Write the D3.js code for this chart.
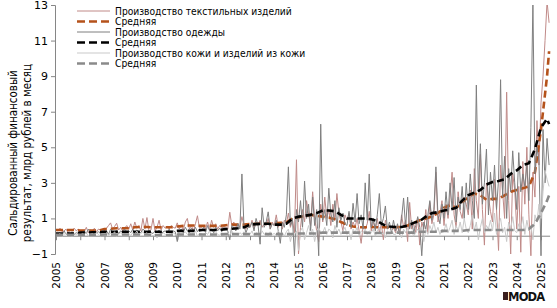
<!DOCTYPE html>
<html><head><meta charset="utf-8">
<script src="https://cdn.jsdelivr.net/npm/d3@7"></script>
<style>
body{margin:0;background:#fff}
svg{display:block}
text{font-family:"DejaVu Sans",Verdana,sans-serif}
</style>
</head><body>
<svg id="c" width="557" height="308"></svg>
<script>
// ---------- DATA ----------
const startYear = 2005;
const yearLabels = ["2005","2006","2007","2008","2009","2010","2011","2012","2013","2014","2015","2016","2017","2018","2019","2020","2021","2022","2023","2024","2025"];
const yTickValues = [-1, 1, 3, 5, 7, 9, 11, 13];
const seriesNames = ["Производство текстильных изделий","Средняя","Производство одежды","Средняя","Производство кожи и изделий из кожи","Средняя"];
const yTitle = ["Сальдированный финансовый","результат, млрд рублей в месяц"];

// monthly values, Jan 2005 .. May 2025 (bn RUB)
const textile = [
 .35,.3,.45,.25,.3,.4,.2,.35,.3,.45,.3,.4,
 .2,.3,.25,.5,.2,.35,.3,.45,.25,.4,.35,.3,
 .3,.45,.6,.75,.4,.55,.73,.35,.5,.3,.45,.6,
 .4,.7,.35,.8,.45,.6,.3,1.0,.4,1.05,.3,.35,
 1.0,.3,.5,.9,.35,.6,.45,.55,.4,.6,.5,.45,
 .75,.4,.6,.35,.8,1.0,.4,.6,.3,.7,1.15,.45,
 .5,.6,.4,.8,.35,.9,.5,.7,.4,.6,.45,.55,
 .5,.4,1.35,.6,.8,.4,.7,.5,1.1,.6,.4,.7,
 .5,.9,.4,.8,.6,.9,.5,.7,.6,1.0,.4,.8,
 .6,1.2,.5,.8,.4,.9,.7,1.3,.5,.9,.2,4.3,
 -1.0,.5,1.5,.8,2.0,1.2,.6,2.5,1.0,.3,-.3,1.8,
 .8,2.2,1.0,1.5,.6,1.8,.9,2.4,1.3,.8,.3,1.2,
 .9,1.3,.4,.8,.5,1.0,.3,-.4,.6,.4,.7,1.4,
 .3,.8,.5,1.0,.2,.7,-.2,.9,.4,.6,.3,.5,
 .2,.6,.1,1.2,.5,.9,-.3,1.9,.4,.7,.2,1.0,
 -.5,.8,.4,1.5,.2,1.9,.7,1.2,3.6,.8,1.3,2.0,
 .6,1.8,1.0,2.2,3.6,1.2,.5,2.5,1.4,1.0,2.2,1.8,
 1.2,2.6,.4,3.8,2.0,1.0,4.6,1.5,-.5,3.0,2.2,1.4,
 .8,3.2,1.5,-.8,4.0,2.5,1.0,8.1,2.0,-1.0,3.5,2.6,
 .4,2.8,-.9,4.2,1.8,5.0,1.2,-1.1,3.6,2.2,6.5,4.0,
 7.5,9.0,11.0,13.2,12.0
];
const clothing = [
 .15,.1,.2,.05,.3,.1,.2,.15,.25,.1,.2,.15,
 .1,.2,.3,.15,.4,.2,.1,.3,.2,.25,.15,.35,
 .2,.3,.1,.4,.25,.2,.35,.15,.3,.2,.4,.25,
 .3,.2,.4,.1,.35,.25,.2,.4,.3,.15,.35,.2,
 .15,.3,.2,.35,.1,.25,.3,.2,.4,.15,.3,.25,
 -.3,.3,.4,.2,.5,.3,.2,.45,.3,.5,.25,.4,
 .3,.5,.2,.6,.3,.4,.2,.5,.3,.45,.25,.5,
 .4,.3,-.2,.6,.5,.3,.7,.4,3.5,.6,.2,.5,
 .5,.8,.3,1.0,.6,-.45,1.6,.5,.8,1.37,.4,.7,
 .6,.9,.3,-.4,.8,.5,1.2,3.9,.6,1.0,-1.1,1.5,
 .8,2.0,.5,3.1,1.0,1.8,.3,2.2,.6,1.5,-1.1,6.3,
 .9,1.5,.6,2.7,1.2,.8,2.0,.5,1.6,.9,1.3,.7,
 .6,1.4,.5,1.85,.8,2.4,.7,1.2,.4,3.0,.9,3.5,
 .5,1.0,.3,1.2,2.4,.6,1.0,1.7,.4,.8,.2,.9,
 .3,.7,.1,1.0,2.15,.5,2.2,.4,.9,.2,.6,1.1,
 .5,-1.1,.8,.4,1.2,2.0,.9,1.5,3.9,1.2,.7,1.8,
 1.0,2.5,1.2,3.0,1.5,3.3,.8,2.2,1.5,2.8,1.0,3.0,
 1.5,3.5,2.0,1.0,8.5,2.5,5.2,1.8,3.0,4.9,1.2,3.6,
 2.0,4.0,1.5,3.2,8.8,2.2,4.5,1.0,3.8,2.5,4.8,3.0,
 1.5,4.7,2.5,3.5,2.8,4.0,2.0,6.1,13.2,3.5,5.0,4.2,
 -1.1,6.0,3.0,5.5,4.0
];
const leather = [
 .1,.05,.15,0,.1,.2,.05,.1,0,.15,.1,.05,
 .05,.15,.1,.2,0,.1,.15,.05,.2,.1,0,.15,
 .1,.2,.05,.15,.1,.25,0,.1,.2,.05,.15,.1,
 .15,.05,.2,.1,.3,.05,.15,.25,.1,.2,0,.1,
 0,.1,-.1,.15,.05,.2,.1,0,.15,.05,.2,.1,
 .1,.2,0,.15,.25,.1,.05,.2,.1,.3,0,.15,
 .15,.05,.2,.1,.3,0,.15,.25,.1,.05,.2,.1,
 .1,.2,.05,.3,.1,.15,0,.2,.1,.25,.05,.15,
 .1,.3,0,.2,.15,.05,.3,.1,.2,0,.25,.1,
 .15,.05,.3,.1,.2,0,.25,.4,-.3,.2,.1,.3,
 -.8,.3,.5,-.2,.2,.6,.1,.4,-.3,.3,.5,.2,
 .2,.5,.1,.4,.3,-.1,.6,.2,.4,.1,.3,.5,
 .1,.3,-.2,.4,.2,.5,0,.3,.2,.4,.1,.3,
 .2,.4,0,.3,.5,.1,.2,-.1,.3,.2,.4,.1,
 .1,.3,.2,-.1,.4,.2,.5,.1,.3,0,.2,.4,
 .2,.5,-.3,.4,.1,.6,.3,.8,.2,.5,.1,.4,
 .3,.7,.2,.5,.9,.1,.6,.3,.8,.2,1.0,.4,
 .2,.6,1.2,.3,.8,-.2,.5,1.0,.2,.6,.4,.9,
 .3,1.3,.1,.6,1.0,.2,.5,-.3,.8,.4,1.1,.3,
 .2,.7,.4,1.1,.1,.9,.3,.6,-.2,1.2,.8,1.8,
 1.0,2.5,3.7,3.2,2.8
];
// averages, read every 3 months (Jan, Apr, Jul, Oct) + last month (May 2025)
const avgMonthIndex = [0,3,6,9,12,15,18,21,24,27,30,33,36,39,42,45,48,51,54,57,60,63,66,69,72,75,78,81,84,87,90,93,96,99,102,105,108,111,114,117,120,123,126,129,132,135,138,141,144,147,150,153,156,159,162,165,168,171,174,177,180,183,186,189,192,195,198,201,204,207,210,213,216,219,222,225,228,231,234,237,240,243,244];
const textileAvg = [
 .35,.35,.35,.35, .32,.32,.32,.32, .4,.42,.45,.45, .45,.5,.52,.52, .5,.5,.5,.5,
 .55,.58,.6,.6, .58,.58,.58,.58, .62,.65,.65,.65, .68,.7,.7,.7, .72,.75,.78,1.0,
 1.05,1.15,1.2,1.15, 1.1,1.05,.95,.8, .65,.55,.5,.5, .52,.5,.5,.5, .5,.52,.6,.75,
 .9,1.0,1.1,1.3, 1.6,1.75,1.6,1.9, 2.2,2.4,2.3,2.05, 2.1,2.1,2.3,2.5, 2.6,2.7,2.8,3.6,
 6.0,9.0,10.4
];
const clothingAvg = [
 .15,.15,.15,.15, .2,.2,.22,.22, .25,.25,.25,.25, .25,.25,.25,.25, .25,.25,.25,.25,
 .3,.3,.3,.3, .35,.35,.35,.35, .4,.42,.45,.5, .65,.68,.7,.7, .65,.65,.7,1.0,
 1.1,1.15,1.2,1.3, 1.45,1.45,1.4,1.2, 1.0,1.0,1.0,1.0, .95,.85,.65,.55, .52,.52,.6,.75,
 .85,1.1,1.3,1.35, 1.45,1.5,1.6,2.0, 2.3,2.45,2.6,2.9, 3.05,3.1,3.2,3.5, 3.7,4.0,4.1,4.9,
 6.1,6.6,6.3
];
const leatherAvg = [
 .08,.08,.08,.08, .08,.08,.08,.08, .1,.1,.1,.1, .1,.1,.1,.1, .07,.07,.07,.07,
 .1,.1,.1,.1, .1,.1,.1,.1, .12,.12,.12,.12, .12,.12,.12,.12, .12,.12,.12,.12,
 .15,.15,.15,.15, .2,.2,.2,.2, .2,.2,.2,.2, .18,.18,.18,.18, .2,.2,.2,.2,
 .25,.25,.25,.25, .3,.3,.3,.3, .35,.35,.35,.35, .35,.35,.35,.35, .35,.35,.4,.7,
 1.3,2.0,2.3
];

// ---------- CHART ----------
const svg = d3.select("#c");
const x = d3.scaleLinear().domain([2005, 2025]).range([56, 541]);
const y = d3.scaleLinear().domain([-1, 13]).range([254, 5]);
const tOf = i => startYear + i / 12;
const yearTicks = yearLabels.map(Number);

svg.append("defs").append("clipPath").attr("id","clip")
  .append("rect").attr("x",50).attr("y",y(13)).attr("width",510).attr("height",300);

// Y axis
const ya = svg.append("g").attr("transform","translate(55,0)")
  .call(d3.axisLeft(y).tickValues(yTickValues).tickSize(4).tickPadding(3).tickFormat(d3.format("d")));
ya.select(".domain").attr("stroke","#868686");
ya.selectAll(".tick line").attr("stroke","#868686");
ya.selectAll(".tick text").attr("font-size",11).attr("fill","#000").attr("font-family","DejaVu Sans, Verdana, sans-serif");

// zero line with year ticks
const y0 = y(0);
svg.append("line").attr("x1",55).attr("x2",x(tOf(textile.length-1))+1)
  .attr("y1",y0).attr("y2",y0).attr("stroke","#868686");
const xa = svg.append("g").attr("transform",`translate(0,${y0})`)
  .call(d3.axisBottom(x).tickValues(yearTicks).tickSize(4).tickFormat(""));
xa.select(".domain").remove();
xa.selectAll(".tick line").attr("stroke","#868686");

// year labels (low position)
svg.append("g").selectAll("text").data(yearLabels).join("text")
  .attr("transform",d=>`translate(${x(+d)+4},262) rotate(-90)`)
  .attr("text-anchor","end").attr("font-size",10.5).attr("fill","#000")
  .text(d=>d);

// y title (narrowed horizontally to match the reference's compact face)
const titleG = svg.append("g");
yTitle.forEach((d,i)=>{
  const t = titleG.append("text").attr("text-anchor","middle").attr("font-size",11.5).attr("fill","#000").text(d);
  t.attr("transform",`translate(${17+i*14},153) rotate(-90) scale(0.9,1)`);
});

// lines
const monthly = d3.line().x((d,i)=>x(tOf(i))).y(d=>y(d));
const avgLine = d3.line().x((d,i)=>x(tOf(avgMonthIndex[i]))).y(d=>y(d));
const plot = svg.append("g").attr("clip-path","url(#clip)");

const styles = [
  {data:textile, gen:monthly, color:"#c08a88", w:1, dash:null},
  {data:textileAvg, gen:avgLine, color:"#b5521b", w:2.6, dash:"7,4"},
  {data:clothing, gen:monthly, color:"#7f7f7f", w:1, dash:null},
  {data:clothingAvg, gen:avgLine, color:"#000000", w:2.6, dash:"7,4"},
  {data:leather, gen:monthly, color:"#c9c9c9", w:1, dash:null},
  {data:leatherAvg, gen:avgLine, color:"#8a8a8a", w:2.6, dash:"7,4"}
];
styles.forEach(s=>{
  plot.append("path").attr("d",s.gen(s.data)).attr("fill","none")
    .attr("stroke",s.color).attr("stroke-width",s.w)
    .attr("stroke-dasharray",s.dash).attr("stroke-linejoin","round");
});

// legend
const lg = svg.append("g");
const legendTexts = [];
seriesNames.forEach((name,i)=>{
  const s = styles[i], yy = 11 + i*10.5;
  lg.append("line").attr("x1",77).attr("x2",110).attr("y1",yy).attr("y2",yy)
    .attr("stroke",s.color).attr("stroke-width",s.w)
    .attr("stroke-dasharray",s.dash ? "8,4" : null);
  const t = lg.append("text").attr("x",0).attr("y",0).attr("font-size",10).attr("fill","#000").text(name);
  legendTexts.push({t, yy});
});
const w0 = legendTexts[0].t.node().getComputedTextLength();
const k = w0 > 0 ? 177 / w0 : 1;
legendTexts.forEach(({t,yy})=>t.attr("transform",`translate(115,${yy+3.5}) scale(${k},1)`));

// logo
const logo = svg.append("g");
logo.append("rect").attr("x",503).attr("y",292).attr("width",5).attr("height",8).attr("fill","#3a1f1f");
logo.append("text").attr("x",508).attr("y",300.5).attr("font-family","Liberation Sans, Arial, sans-serif")
  .attr("font-weight","bold").attr("font-size",11.5).attr("letter-spacing",-0.8).attr("fill","#111").text("MODA");
</script>
</body></html>
